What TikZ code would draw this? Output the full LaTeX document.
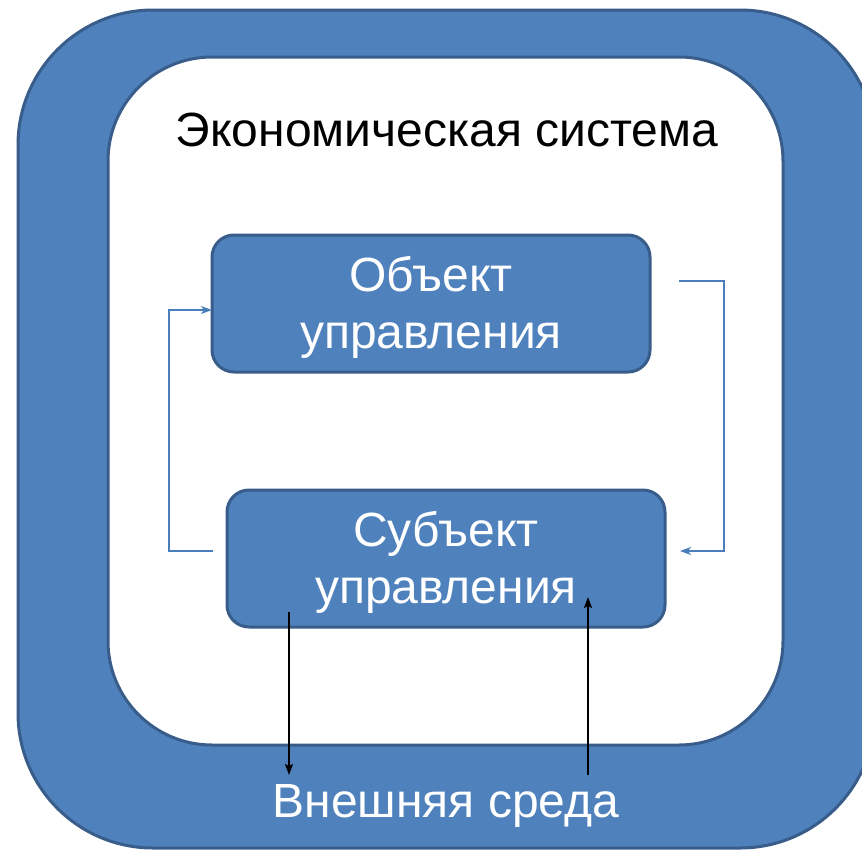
\documentclass[tikz,border=0pt]{standalone}
\usepackage{fontspec}
\setmainfont{Liberation Sans}
\usetikzlibrary{arrows.meta}
\definecolor{fillblue}{HTML}{4F81BD}
\definecolor{edgeblue}{HTML}{385D8A}
\definecolor{linkblue}{HTML}{4A7EBB}
\newcommand{\boxlines}[2]{\raisebox{-5pt}[\height][\depth]{\begin{tabular}{@{}c@{}}#1\\#2\end{tabular}}}
\begin{document}
\begin{tikzpicture}[x=1pt,y=-1pt,
  frame/.style={draw=edgeblue, line width=3pt, inner sep=0pt, outer sep=0pt},
  blockbox/.style={frame, fill=fillblue, rounded corners=22pt,
    minimum width=438pt, minimum height=137pt, text=white, align=center,
    font=\fontsize{48}{57}\selectfont},
  bigtext/.style={font=\fontsize{48}{57}\selectfont, inner sep=0pt},
  link/.style={draw=linkblue, line width=1.5pt, -{Stealth[length=11pt,width=8pt,inset=3pt]}},
  blacklink/.style={draw=black, line width=1.5pt, -{Stealth[length=11pt,width=8pt,inset=2pt]}}]
\useasboundingbox (0,0) rectangle (862,849);
\clip (0,0) rectangle (862,849);
\node[frame, fill=fillblue, rounded corners=135pt, minimum width=857pt, minimum height=838pt] (outer) at (446.5,429) {};
\node[frame, fill=white, rounded corners=104pt, minimum width=675pt, minimum height=688pt] (inner) at (445.5,401) {};
\node[bigtext] (title) at (447,130) {Экономическая система};
\node[blockbox] (obj) at (431,303.5) {\boxlines{Объект}{управления}};
\node[blockbox] (subj) at (446,558.5) {\boxlines{Субъект}{управления}};
\node[bigtext, text=white] (env) at (446,806) {Внешняя среда};
% blue feedback loop
\coordinate (lA) at (213,551);
\coordinate (lB) at (169,551);
\draw[link] (lA) -- (lB) |- ([yshift=-6.5pt]obj.west);
\coordinate (rA) at (679,281);
\coordinate (rB) at (724,281);
\coordinate (rC) at (680,551);
\draw[link] (rA) -- (rB) |- (rC);
% exchange with environment
\coordinate (dA) at (289,612);
\coordinate (dB) at (289,775);
\draw[blacklink] (dA) -- (dB);
\coordinate (uA) at (588,775);
\coordinate (uB) at (588,597);
\draw[blacklink] (uA) -- (uB);
\end{tikzpicture}
\end{document}
